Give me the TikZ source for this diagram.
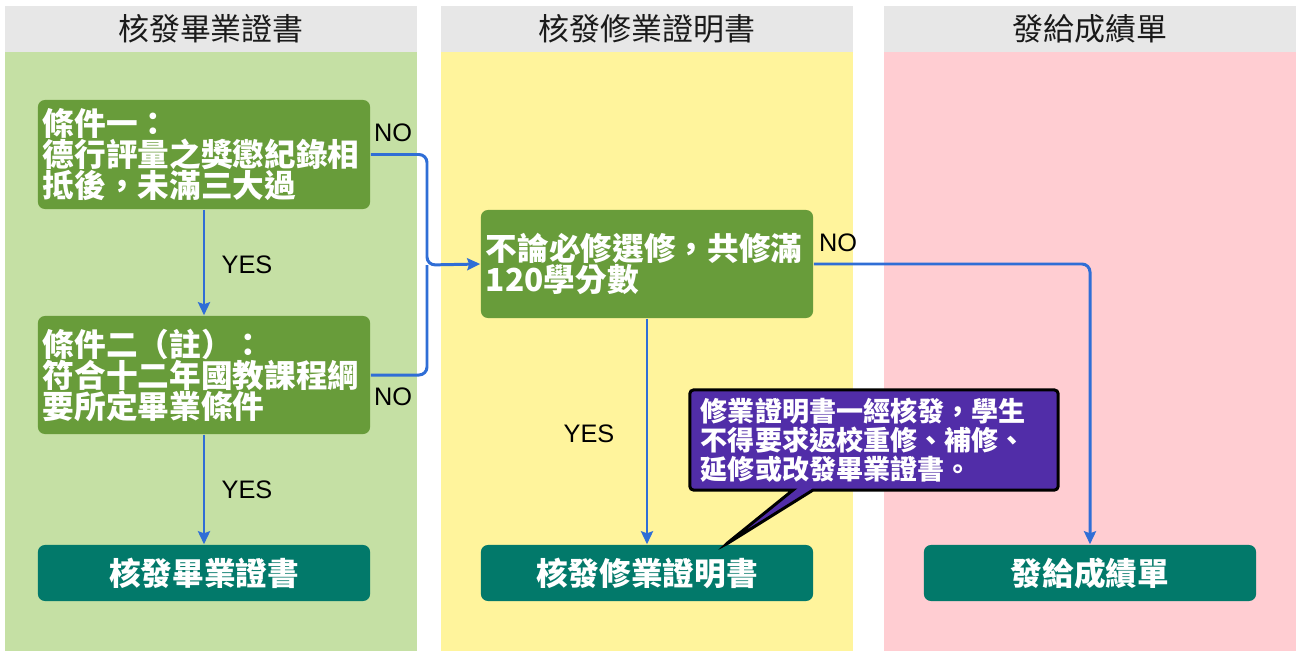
\documentclass[tikz,border=0pt]{standalone}
\usepackage{fontspec}
\setmainfont{Liberation Sans}
\newfontfamily\cjk{Noto Sans CJK TC}
\usetikzlibrary{arrows.meta,shapes.callouts}

\definecolor{headgray}{HTML}{E7E7E7}
\definecolor{lanegreen}{HTML}{C5E0A4}
\definecolor{laneyellow}{HTML}{FFF49C}
\definecolor{lanepink}{HTML}{FFCDD2}
\definecolor{condgreen}{HTML}{689C3A}
\definecolor{endteal}{HTML}{02796A}
\definecolor{notepurple}{HTML}{512DA8}
\definecolor{flowblue}{HTML}{2F6ED6}
\definecolor{headtext}{HTML}{1A1A1A}

\tikzset{
  headtitle/.style={text=headtext, font=\cjk\fontsize{8.8}{9}\selectfont},
  cond/.style={rectangle, rounded corners=2pt, fill=condgreen, text=white,
    font=\cjk\bfseries\fontsize{9}{8.8}\selectfont, align=left,
    text width=3.22cm, inner xsep=0.05cm, inner ysep=0pt},
  result/.style={rectangle, rounded corners=2pt, fill=endteal, text=white,
    font=\cjk\bfseries\fontsize{9}{9}\selectfont,
    minimum width=3.32cm, minimum height=0.56cm},
  note/.style={rectangle callout, callout pointer width=0.2cm, rounded corners=1pt,
    fill=notepurple, draw=black, line width=0.85pt, text=white,
    font=\cjk\bfseries\fontsize{7.7}{8.25}\selectfont, align=left,
    text width=3.46cm, inner xsep=0.11cm, inner ysep=0pt, minimum height=1cm},
  flow/.style={flowblue, line width=0.85pt, rounded corners=0.08cm},
  tip/.style={-{Stealth[length=1.3mm,width=1.2mm,inset=0.2mm]}},
  answer/.style={font=\fontsize{7.2}{8}\selectfont, text=black}
}

\begin{document}
\begin{tikzpicture}[x=0.01cm,y=-0.01cm]
\useasboundingbox[fill=white] (0,0) rectangle (1296,651);

% lanes
\fill[headgray] (5,6) rectangle (417,52);
\fill[lanegreen] (5,52) rectangle (417,651);
\fill[headgray] (441,6) rectangle (853,52);
\fill[laneyellow] (441,52) rectangle (853,651);
\fill[headgray] (884,6) rectangle (1296,52);
\fill[lanepink] (884,52) rectangle (1296,651);

\node[headtitle] (h1) at (211,29) {核發畢業證書};
\node[headtitle] (h2) at (647,29) {核發修業證明書};
\node[headtitle] (h3) at (1090,29) {發給成績單};

% boxes
\node[cond, minimum height=1.09cm] (c1) at (204,154.5) {條件一：\\德行評量之獎懲紀錄相\\抵後，未滿三大過};
\node[cond, minimum height=1.18cm] (c2) at (204,375) {條件二（註）：\\符合十二年國教課程綱\\要所定畢業條件};
\node[cond, minimum height=1.08cm] (credits) at (647,264) {不論必修選修，共修滿\\120學分數\\[0.3cm]};

\node[result] (grad) at (204,573) {核發畢業證書};
\node[result] (cert) at (647,573) {核發修業證明書};
\node[result] (transcript) at (1090,573) {發給成績單};

\coordinate (join) at (427,265);
\coordinate (pointer) at (725,545);

% arrows
\draw[flow,tip] (c1) -- (c2);
\draw[flow,tip] (c2) -- (grad);
\draw[flow,tip] (c1.east) -| (join) -- (credits.west);
\draw[flow] (c2.east) -| (join);
\draw[flow,tip] (credits) -- (cert);
\draw[flow,tip] (credits.east) -| (transcript.north);

\node[answer] (no1) at (393,133) {NO};
\node[answer] (no2) at (393,397) {NO};
\node[answer] (yes1) at (247,265) {YES};
\node[answer] (yes2) at (247,490) {YES};
\node[answer] (yes3) at (589,434) {YES};
\node[answer] (no3) at (838,243) {NO};

\node[note, callout absolute pointer={(pointer)}] (warn) at (874,440)
  {修業證明書一經核發，學生\\不得要求返校重修、補修、\\延修或改發畢業證書。};
\end{tikzpicture}
\end{document}
